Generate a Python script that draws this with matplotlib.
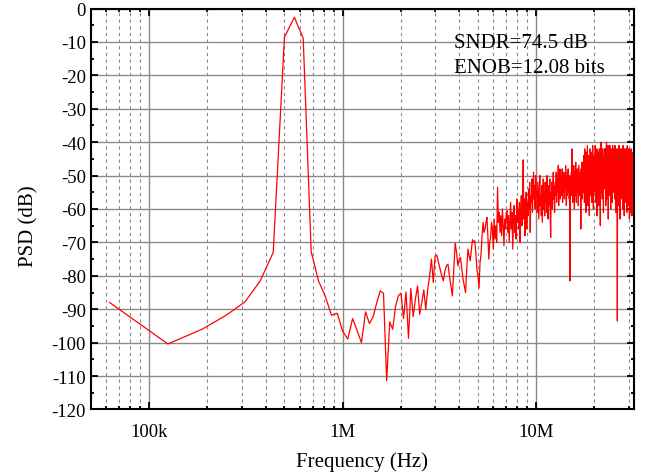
import numpy as np
import matplotlib
matplotlib.use('Agg')
import matplotlib.pyplot as plt
from matplotlib.ticker import FixedLocator, FixedFormatter, MultipleLocator, LogLocator

plt.rcParams['font.family'] = ['Liberation Serif', 'DejaVu Serif']
plt.rcParams['axes.unicode_minus'] = False

# FFT bin width (Hz), bin k sits at k * BIN_HZ
BIN_HZ = 62.5e3

# PSD per bin in dB (bins 1..512)
psd_low = [
    -88.0, -100.4, -96.0, -91.8, -87.8, -81.5, -73.0, -8.6, -2.6, -8.9,
    -72.8, -81.5, -86.1, -91.8, -91.2, -96.6, -98.9, -92.8, -96.4, -100.0,
    -90.8, -94.3, -92.2, -88.0, -84.5, -85.2, -111.4, -93.8, -96.0, -89.2,
    -86.0, -85.2, -92.8, -84.8, -98.7, -83.8, -92.2, -87.0, -83.0, -91.5,
    -88.0, -84.2, -90.0, -84.0,
]
psd_mid = [
    -80, -75, -82, -74.2, -73.8, -76, -78, -80, -81.5, -78.5,
    -77, -76.5, -80, -83, -86, -78, -70.2, -73, -77, -75,
    -74.5, -78, -81, -83, -85, -78, -72, -74, -75.5, -72,
    -69.2, -70, -69.5, -73, -78, -80, -83.7, -76, -73.5, -68,
    -64, -67, -66, -64, -62.5, -68, -75, -70, -68.5, -64,
    # 6M - 7M
    -66, -72, -63, -69, -65, -70, -53.5, -64, -61, -67,
    -62, -68, -60, -65, -71, -63, -66, -61,
    # 7M - 8M
    -60.5, -67, -62, -70, -64, -58, -66, -61, -72, -63,
    -59, -67, -62, -69, -57, -64,
    # 8M - 9M
    -60, -66, -58, -70, -61, -56, -65, -59, -45.3, -63,
    -57, -68, -60, -55, -66, -58,
    # 9M - 10M
    -62, -54, -60, -52, -67, -56, -58, -51, -61, -55,
    -49, -57, -53, -60, -50, -56,
]
psd_high = [
    -55, -61, -52, -58, -63, -54, -50, -59, -56, -62, -53, -64, -57, -51, -60, -55, -62, -52, -58, -54,
    -61, -50, -57, -63, -53, -59, -56, -51, -62, -68.5, -55, -58, -52, -60, -54, -49, -57, -53, -61, -55,
    -52, -56, -49, -58, -53, -50, -55, -47, -59, -51, -54, -48, -57, -52, -50, -56, -53, -48, -58, -51,
    -55, -49, -53, -57, -50, -54, -47, -52, -59, -51, -56, -49, -53, -48, -55, -51, -57, -50, -81.5, -53,
    -51, -56, -49, -54, -42, -52, -58, -50, -55, -47, -53, -60, -49, -56, -51, -46, -54, -58, -50, -53,
    -48, -55, -52, -59, -47, -53, -50, -56, -49, -54, -51, -66, -48, -55, -52, -46, -57, -50, -53, -49,
    -55, -44, -52, -58, -42, -54, -46, -53, -61, -43, -56, -51, -47, -41, -50, -59, -52, -44, -55, -51,
    -62, -45, -53, -42, -56, -50, -54, -43, -52, -58, -46, -55, -41, -46, -53, -60, -44, -54, -48, -52,
    -49, -55, -41, -52, -58, -44, -47, -54, -42, -62, -48, -53, -43, -56, -50, -45, -47, -59, -42, -54,
    -46, -51, -65, -44, -53, -40, -55, -49, -43, -47, -57, -42, -53, -46, -51, -61, -44, -54, -50, -42,
    -52, -45, -49, -53, -42, -59, -50, -44, -40, -51, -57, -43, -53, -46, -55, -41, -63, -48, -44, -47,
    -54, -43, -56, -41, -51, -53, -44, -60, -49, -42, -46, -55, -43, -53, -47, -58, -41, -49, -54, -44,
    -52, -42, -55, -50, -44, -48, -57, -41, -43, -54, -45, -52, -61, -42, -53, -46, -56, -43, -51, -93.5,
    -45, -54, -42, -52, -59, -44, -53, -41, -55, -47, -43, -53, -50, -63, -44, -54, -42, -52, -56, -46,
    -53, -43, -51, -57, -42, -54, -46, -44, -60, -41, -53, -47, -55, -43, -49, -62, -45, -42, -54, -50,
    -56, -43, -53, -47, -58, -42, -55, -45, -48, -61, -43, -54, -41, -53, -59, -46, -44, -56, -42, -48,
    -54, -44, -58, -46, -63, -42, -55, -47, -43, -57, -49, -45, -61, -52, -42, -56, -62, -47, -54, -44,
    -59, -46, -55, -43, -62, -48, -56, -45, -60, -50, -58, -53,
]
psd = np.array(psd_low + psd_mid + psd_high)
freq = np.arange(1, len(psd) + 1) * BIN_HZ

x_ticks = [1e5, 1e6, 1e7]
x_labels = ['100k', '1M', '10M']
y_ticks = list(range(-120, 1, 10))
notes = ['SNDR=74.5 dB', 'ENOB=12.08 bits']

fig = plt.figure(figsize=(6.54, 4.77), dpi=100)
ax = fig.add_axes([0.139, 0.1395, 0.8304, 0.8405])

ax.plot(freq, psd, color='red', lw=0.9)

ax.set_xscale('log')
ax.set_xlim(50e3, 32e6)
ax.set_ylim(-120, 0)

ax.xaxis.set_major_locator(FixedLocator(x_ticks))
ax.xaxis.set_major_formatter(FixedFormatter(x_labels))
ax.xaxis.set_minor_locator(LogLocator(base=10, subs=np.arange(2, 10)))
ax.xaxis.set_minor_formatter(FixedFormatter([]))
ax.yaxis.set_major_locator(FixedLocator(y_ticks))
ax.yaxis.set_minor_locator(MultipleLocator(5))

ax.grid(True, which='major', color='#8a8a8a', lw=1.0, ls='-')
ax.grid(True, which='minor', axis='x', color='#8a8a8a', lw=0.8, ls=(0, (3, 3)))
ax.set_axisbelow(True)

ax.tick_params(which='both', direction='in', top=True, right=True, width=1.3, labelsize=13.5)
ax.tick_params(which='major', length=5)
ax.tick_params(which='minor', length=2.5)
ax.tick_params(axis='x', which='major', pad=10)
for sp in ax.spines.values():
    sp.set_linewidth(1.5)

ax.set_xlabel('Frequency (Hz)', fontsize=15, labelpad=8)
ax.set_ylabel('PSD (dB)', fontsize=15)
ax.yaxis.set_label_coords(-0.097, 0.46)

for i, s in enumerate(notes):
    ax.text(0.6685, 0.903 - i * 0.0625, s, fontsize=15, transform=ax.transAxes, va='baseline')

fig.savefig('out.png', dpi=100)
